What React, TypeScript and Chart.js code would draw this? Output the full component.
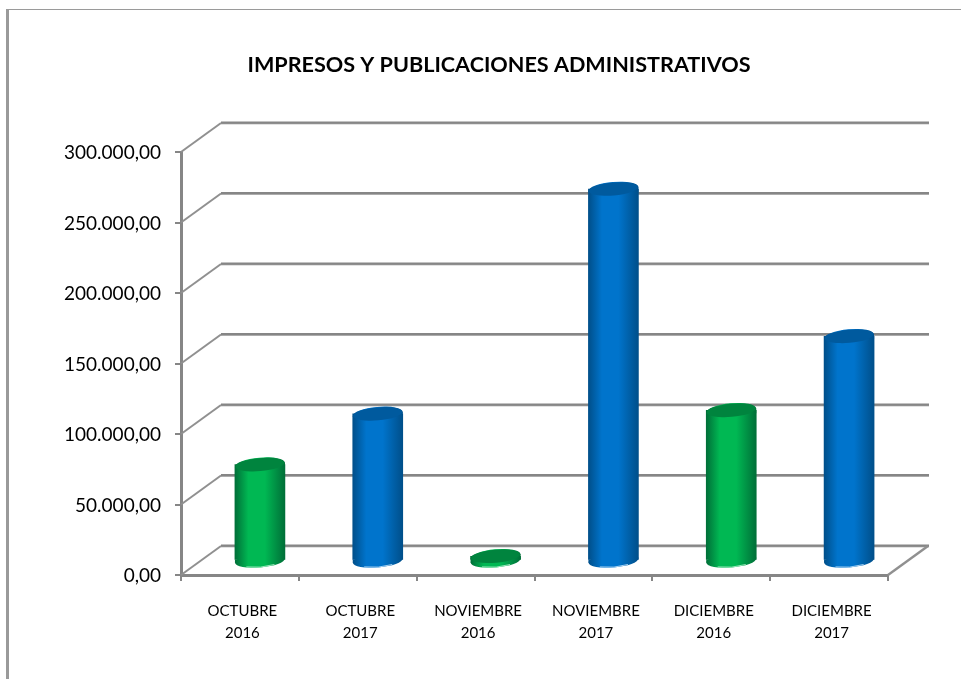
import React, { useEffect, useRef } from "react";
import { Chart, registerables } from "chart.js";

Chart.register(...registerables);

const TITLE = "IMPRESOS Y PUBLICACIONES ADMINISTRATIVOS";
const categories = [
  ["OCTUBRE", "2016"],
  ["OCTUBRE", "2017"],
  ["NOVIEMBRE", "2016"],
  ["NOVIEMBRE", "2017"],
  ["DICIEMBRE", "2016"],
  ["DICIEMBRE", "2017"],
];
const values = [68000, 104000, 3000, 263500, 106500, 159000];
const edgeColors = ["#006f38", "#004f8a", "#006f38", "#004f8a", "#006f38", "#004f8a"];
const midColors = ["#00b853", "#0074cc", "#00b853", "#0074cc", "#00b853", "#0074cc"];
const capColors = ["#00843e", "#005a9e", "#00843e", "#005a9e", "#00843e", "#005a9e"];
const rimColors = ["#9be8bd", "#a8d2f2", "#9be8bd", "#a8d2f2", "#9be8bd", "#a8d2f2"];
const yMax = 300000;
const yStep = 50000;

const DEPTH_X = 40;
const DEPTH_Y = -29;
const LINE = "#868686";
const LINE_LIGHT = "#c6c6c6";
const BAR_W = 50;
const RY = 7;
const TILT_DEG = -5;
const TILT = (TILT_DEG * Math.PI) / 180;
const RISE = 2.2;

const fmt = (v: number) => {
  const s = String(Math.round(v)).replace(/\B(?=(\d{3})+(?!\d))/g, ".");
  return s + ",00";
};

const gradientFor = (ctx: CanvasRenderingContext2D, cx: number, i: number) => {
  const g = ctx.createLinearGradient(cx - BAR_W / 2, 0, cx + BAR_W / 2, 0);
  g.addColorStop(0, edgeColors[i]);
  g.addColorStop(0.27, midColors[i]);
  g.addColorStop(0.6, midColors[i]);
  g.addColorStop(1, edgeColors[i]);
  return g;
};

const seg = (c: CanvasRenderingContext2D, x1: number, y1: number, x2: number, y2: number) => {
  c.beginPath();
  c.moveTo(x1, y1);
  c.lineTo(x2, y2);
  c.stroke();
};

const frame3d = {
  id: "frame3d",
  afterLayout(chart: any) {
    // the title is centred over the plot's depth box, not over the whole canvas
    chart.titleBlock.left = 110;
  },
  beforeDraw(chart: any) {
    const c = chart.ctx;
    c.save();
    c.fillStyle = "#ffffff";
    c.fillRect(0, 0, chart.width, chart.height);
    c.fillStyle = "#9a9a9a";
    c.fillRect(6, 9, 3, chart.height - 9);
    c.fillRect(6, 9, chart.width - 6, 1);
    c.restore();
  },
  beforeDatasetsDraw(chart: any) {
    const c = chart.ctx;
    const { left, right } = chart.chartArea;
    const y = chart.scales.y;
    const bx1 = left + DEPTH_X;
    const bx2 = right + DEPTH_X + 1;
    c.save();
    y.ticks.forEach((t: any) => {
      const py = y.getPixelForValue(t.value);
      c.fillStyle = LINE_LIGHT;
      c.fillRect(bx1, py + DEPTH_Y + 0.5, bx2 - bx1, 1);
      c.fillStyle = LINE;
      c.fillRect(bx1, py + DEPTH_Y - 1.5, bx2 - bx1, 2.4);
      c.strokeStyle = "#909090";
      c.lineWidth = 2;
      seg(c, left, py, bx1, py + DEPTH_Y);
    });
    const p0 = y.getPixelForValue(0);
    c.strokeStyle = "#909090";
    c.lineWidth = 2.4;
    seg(c, right, p0, right + DEPTH_X, p0 + DEPTH_Y);
    c.restore();
  },
  beforeDatasetDraw(chart: any, args: any) {
    const c = chart.ctx;
    c.save();
    c.translate(DEPTH_X / 2, DEPTH_Y / 2);
    const x = chart.scales.x;
    const y = chart.scales.y;
    const p0 = y.getPixelForValue(0);
    const w = BAR_W / 2;
    args.meta.data.forEach((_: any, i: number) => {
      const cx = x.getPixelForValue(i);
      c.fillStyle = gradientFor(c, cx, i);
      c.beginPath();
      c.moveTo(cx - w, p0 - 1);
      c.lineTo(cx - w, p0 + RISE);
      c.lineTo(cx + w, p0 - RISE);
      c.lineTo(cx + w, p0 - 3);
      c.closePath();
      c.fill();
      c.beginPath();
      c.ellipse(cx, p0, w, RY, TILT, 0, Math.PI * 2);
      c.fill();
      c.beginPath();
      c.ellipse(cx, p0, w - 1, RY - 0.5, TILT, Math.PI * 0.3, Math.PI * 0.7);
      c.strokeStyle = rimColors[i];
      c.lineWidth = 1;
      c.stroke();
    });
  },
  afterDatasetDraw(chart: any, args: any) {
    const c = chart.ctx;
    const x = chart.scales.x;
    const y = chart.scales.y;
    const w = BAR_W / 2;
    args.meta.data.forEach((_: any, i: number) => {
      const cx = x.getPixelForValue(i);
      const py = y.getPixelForValue(values[i]);
      c.fillStyle = gradientFor(c, cx, i);
      c.beginPath();
      c.moveTo(cx - w, py + RISE);
      c.lineTo(cx + w, py - RISE);
      c.lineTo(cx + w, py + 3);
      c.lineTo(cx - w, py + 3);
      c.closePath();
      c.fill();
      c.beginPath();
      c.ellipse(cx, py, w, RY, TILT, 0, Math.PI * 2);
      c.fill();
      c.beginPath();
      c.ellipse(cx, py, w - 0.5, RY - 0.5, TILT, 0, Math.PI * 2);
      c.fillStyle = capColors[i];
      c.fill();
    });
    c.restore();
  },
};

export default function App() {
  const ref = useRef<HTMLCanvasElement>(null);
  useEffect(() => {
    const chart = new Chart(ref.current as HTMLCanvasElement, {
      type: "bar",
      data: {
        labels: categories,
        datasets: [
          {
            data: values,
            clip: false,
            barThickness: BAR_W,
            borderWidth: 0,
            backgroundColor: (ctx: any) => {
              const i = ctx.dataIndex;
              const sx = ctx.chart.scales.x;
              if (!sx || i === undefined) return midColors[0];
              const cx = sx.getPixelForValue(i);
              if (!Number.isFinite(cx)) return midColors[i];
              return gradientFor(ctx.chart.ctx, cx, i);
            },
          } as any,
        ],
      },
      options: {
        responsive: false,
        animation: false,
        events: [],
        layout: { padding: { left: 0, right: 73, top: 0, bottom: 0 } },
        plugins: {
          legend: { display: false },
          tooltip: { enabled: false },
          title: {
            display: true,
            text: TITLE,
            color: "#000000",
            font: { family: "Lato", size: 21.6, weight: "bold", lineHeight: "26px" },
            padding: { top: 52, bottom: 74 },
          },
        },
        scales: {
          x: {
            afterFit: (s: any) => {
              s.height = 104;
            },
            border: { display: true, color: LINE, width: 3 },
            grid: {
              drawOnChartArea: false,
              drawTicks: true,
              tickLength: 6,
              color: LINE,
              lineWidth: 2,
            },
            ticks: {
              color: "#000000",
              maxRotation: 0,
              autoSkip: false,
              padding: 19,
              labelOffset: 2.5,
              font: { family: "Lato", size: 15, lineHeight: "22px" },
            },
          },
          y: {
            min: 0,
            max: yMax,
            afterFit: (s: any) => {
              s.width = 181;
            },
            border: { display: true, color: LINE, width: 3 },
            grid: {
              drawOnChartArea: false,
              drawTicks: true,
              tickLength: 6,
              color: LINE,
              lineWidth: 2,
            },
            ticks: {
              stepSize: yStep,
              color: "#000000",
              padding: 14,
              labelOffset: 1,
              callback: (v: any) => fmt(Number(v)),
              font: { family: "Lato", size: 19 },
            },
          },
        },
      },
      plugins: [frame3d],
    } as any);
    return () => chart.destroy();
  }, []);
  return (
    <div style={{ position: "absolute", left: 0, top: 0, width: 961, height: 679, background: "#fff" }}>
      <canvas ref={ref} width={961} height={679} style={{ display: "block" }} />
    </div>
  );
}
